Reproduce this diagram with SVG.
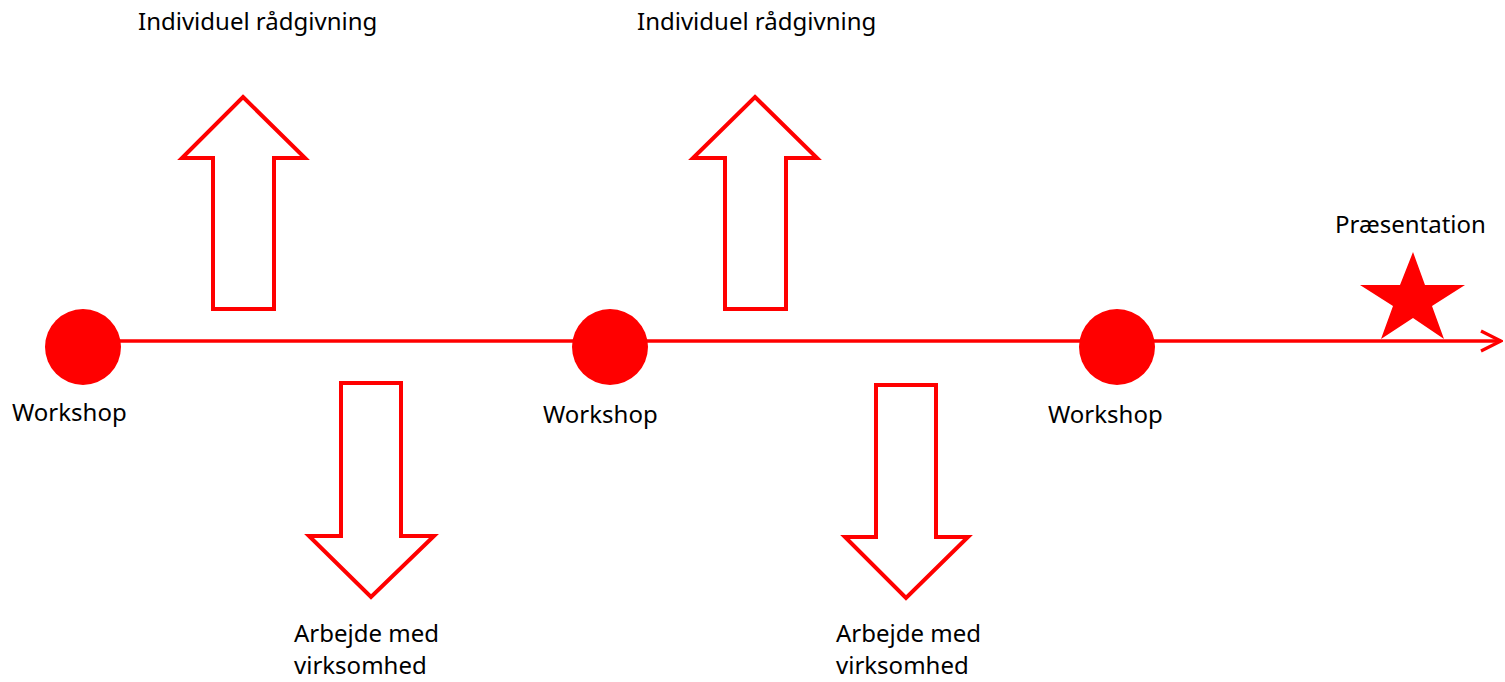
<svg xmlns="http://www.w3.org/2000/svg" width="1505" height="682" viewBox="0 0 1505 682">
<style>
.lbl{font-family:"Noto Sans","Open Sans",sans-serif;font-size:24px;fill:#000}
.arw{fill:#fff;stroke:#ff0000;stroke-width:4;stroke-linejoin:miter}
.dot{fill:#ff0000}
</style>
<defs>
<marker id="chev" viewBox="0 0 12 12" refX="11" refY="6" markerWidth="24" markerHeight="24" markerUnits="userSpaceOnUse" orient="auto">
<path d="M1,1 L11,6 L1,11" fill="none" stroke="#ff0000" stroke-width="1.6"/>
</marker>
</defs>
<rect width="1505" height="682" fill="#fff"/>
<g id="connectors">
<line x1="83" y1="341" x2="1501" y2="341" stroke="#ff0000" stroke-width="3.5" marker-end="url(#chev)"/>
</g>
<g id="workshop1"><circle class="dot" cx="83" cy="347" r="38"/><text class="lbl" x="12" y="421">Workshop</text></g>
<g id="workshop2"><circle class="dot" cx="610" cy="347" r="38"/><text class="lbl" x="543" y="423">Workshop</text></g>
<g id="workshop3"><circle class="dot" cx="1117" cy="347" r="38"/><text class="lbl" x="1048" y="423">Workshop</text></g>
<g id="radgivning1"><polygon class="arw" points="243,97 305,158 274,158 274,309 213,309 213,158 182,158"/><text class="lbl" x="138" y="30">Individuel rådgivning</text></g>
<g id="radgivning2"><polygon class="arw" points="755,97 817,158 786,158 786,309 725,309 725,158 693,158"/><text class="lbl" x="637" y="30">Individuel rådgivning</text></g>
<g id="arbejde1"><polygon class="arw" points="341,383 401,383 401,536 434,536 371,597 309,536 341,536"/><text class="lbl" x="294" y="642">Arbejde med</text><text class="lbl" x="294" y="674">virksomhed</text></g>
<g id="arbejde2"><polygon class="arw" points="876,385 936,385 936,537 968,537 906,598 845,537 876,537"/><text class="lbl" x="836" y="642">Arbejde med</text><text class="lbl" x="836" y="674">virksomhed</text></g>
<g id="praesentation"><polygon fill="#ff0000" points="1413,252 1425,285 1465,285 1432,306 1444,339 1413,318 1381,339 1393,306 1360,285 1400,285"/><text class="lbl" x="1335" y="233">Præsentation</text></g>
</svg>
